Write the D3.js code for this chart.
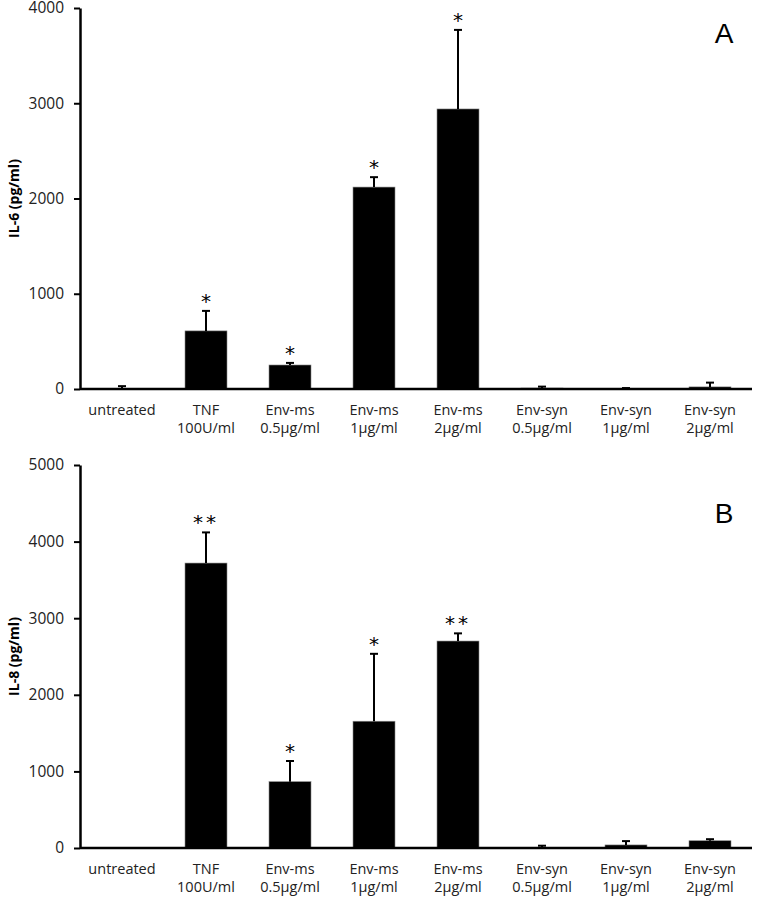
<!DOCTYPE html>
<html><head><meta charset="utf-8">
<script src="https://cdn.jsdelivr.net/npm/d3@7"></script>
<style>body{margin:0;background:#fff}</style>
</head><body>
<svg id="c" width="760" height="899"></svg>
<script>
const categories = ["untreated","TNF\n100U/ml","Env-ms\n0.5µg/ml","Env-ms\n1µg/ml","Env-ms\n2µg/ml","Env-syn\n0.5µg/ml","Env-syn\n1µg/ml","Env-syn\n2µg/ml"];
const il6Values = [5, 610, 252, 2120, 2940, 10, 4, 22];
const il6Errors = [25, 210, 22, 104, 830, 15, 6, 45];
const il6Stars  = ["", "*", "*", "*", "*", "", "", ""];
const il6Ticks  = [0, 1000, 2000, 3000, 4000];
const il8Values = [0, 3720, 866, 1655, 2702, 0, 40, 95];
const il8Errors = [0, 400, 270, 880, 100, 30, 50, 20];
const il8Stars  = ["", "**", "*", "*", "**", "", "", ""];
const il8Ticks  = [0, 1000, 2000, 3000, 4000, 5000];

const svg = d3.select("#c");
const font = "'Open Sans', 'Liberation Sans', sans-serif";

function panel(cfg){
  const g = svg.append("g");
  const x = d3.scaleBand().domain(categories).range([80, 752]).paddingInner(0.5).paddingOuter(0.25);
  const y = d3.scaleLinear().domain([0, cfg.max]).range([cfg.y0, cfg.y1]);
  g.selectAll("rect.bar").data(cfg.values).join("rect")
    .attr("x", (d,i)=>x(categories[i])).attr("width", x.bandwidth())
    .attr("y", d=>y(d)).attr("height", d=>cfg.y0 - y(d))
    .attr("fill","#000").attr("stroke","#888").attr("stroke-width",0.6);
  cfg.values.forEach((v,i)=>{
    const e = cfg.errors[i]; if(!e) return;
    const cx = x(categories[i]) + x.bandwidth()/2;
    g.append("line").attr("x1",cx).attr("x2",cx).attr("y1",y(v)).attr("y2",y(v+e)).attr("stroke","#000").attr("stroke-width",2);
    g.append("line").attr("x1",cx-4).attr("x2",cx+4).attr("y1",y(v+e)).attr("y2",y(v+e)).attr("stroke","#000").attr("stroke-width",2);
  });
  cfg.stars.forEach((s,i)=>{
    if(!s) return;
    const cx = x(categories[i]) + x.bandwidth()/2;
    g.append("text").attr("x",cx).attr("y",y(cfg.values[i]+cfg.errors[i]) - 3)
      .attr("text-anchor","middle").attr("font-family","'DejaVu Sans', sans-serif").attr("font-size",20)
      .attr("fill","#000").attr("letter-spacing", s.length>1 ? 3 : 0).text(s);
  });
  const ya = g.append("g").attr("transform","translate(80,0)")
    .call(d3.axisLeft(y).tickValues(cfg.ticks).tickSize(6).tickSizeOuter(0).tickFormat(d3.format("d")));
  ya.select(".domain").attr("stroke-width",2.5);
  ya.selectAll(".tick line").attr("stroke-width",2);
  ya.selectAll("text").attr("font-family",font).attr("font-size",15.5).attr("fill","#222").attr("x",-16);
  g.append("line").attr("x1",80).attr("x2",752).attr("y1",cfg.y0).attr("y2",cfg.y0).attr("stroke","#000").attr("stroke-width",2.5);
  categories.forEach(c=>{
    const cx = x(c) + x.bandwidth()/2;
    const t = g.append("text").attr("text-anchor","middle").attr("font-family",font).attr("font-size",14.5).attr("fill","#222");
    c.split("\n").forEach((line,k)=>{
      t.append("tspan").attr("x",cx).attr("y",cfg.y0 + 26 + k*18).text(line);
    });
  });
  g.append("text").attr("transform",`translate(19,${(cfg.y0+cfg.y1)/2}) rotate(-90)`)
    .attr("text-anchor","middle").attr("font-family",font).attr("font-weight","bold").attr("font-size",14).text(cfg.title);
  g.append("text").attr("x",724).attr("y",cfg.letterY).attr("text-anchor","middle")
    .attr("font-family","'Liberation Sans', Arial, sans-serif").attr("font-size",28).text(cfg.letter);
}

panel({values: il6Values, errors: il6Errors, stars: il6Stars, ticks: il6Ticks, max: 4000, y0: 389, y1: 8, title: "IL-6 (pg/ml)", letter: "A", letterY: 43});
panel({values: il8Values, errors: il8Errors, stars: il8Stars, ticks: il8Ticks, max: 5000, y0: 848, y1: 465, title: "IL-8 (pg/ml)", letter: "B", letterY: 523});
</script>
</body></html>
